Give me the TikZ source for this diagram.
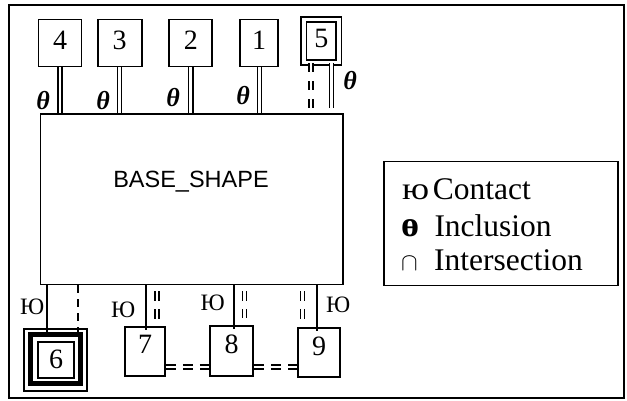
\documentclass[tikz,border=0pt]{standalone}
\usepackage{fontspec}
\setmainfont{Liberation Serif}
\newfontfamily\basesans{Liberation Sans}
\usetikzlibrary{calc}

\begin{document}
\begin{tikzpicture}[x=1pt,y=-1pt,
  box/.style={draw, line width=1.8pt, inner sep=0pt, fill=white,
    font=\fontsize{28}{28}\selectfont, text depth=5pt},
  lowbox/.style={box, text depth=14pt},
  incl/.style={double, line width=1.3pt, double distance=2.8pt},
  isect/.style={incl, dash pattern=on 9pt off 9pt},
  isectshort/.style={incl, dash pattern=on 10pt off 8pt},
  isecth/.style={incl, dash pattern=on 10pt off 7pt},
  contact/.style={line width=1.8pt},
  theta/.style={inner sep=0pt, font=\fontsize{26}{26}\selectfont\bfseries\itshape},
  ctlabel/.style={inner sep=0pt, font=\fontsize{23.5}{23.5}\selectfont},
  legtext/.style={anchor=base west, inner sep=0pt, font=\fontsize{31.5}{31.5}\selectfont},
]
\useasboundingbox (0,0) rectangle (627,400);

% outer frame
\draw[line width=2pt] (9,5) rectangle (624,398);

% base shape
\node[draw, line width=1.8pt, minimum width=302.5pt, minimum height=170.2pt,
  inner sep=0pt] (base) at (191.75,199.4) {};
\node[anchor=base, inner sep=0pt, font=\basesans\fontsize{23.5}{23.5}\selectfont]
  (basetxt) at (191,187) {BASE\_SHAPE};

% upper boxes
\node[box, minimum width=43pt, minimum height=47pt] (b4) at (60,43) {4};
\node[box, minimum width=44pt, minimum height=47pt] (b3) at (119.7,43) {3};
\node[box, minimum width=43pt, minimum height=47pt] (b2) at (190.8,43) {2};
\node[box, minimum width=38pt, minimum height=47pt] (b1) at (259.2,43) {1};
\node[box, double, line width=1.7pt, double distance=3.6pt,
  minimum width=35pt, minimum height=43pt] (b5) at (321.3,40.8) {5};

% inclusion links on top
\draw[incl] (b4.south) -- (b4.south |- base.north);
\draw[incl] (b3.south) -- (b3.south |- base.north);
\draw[incl] (b2.south) -- (b2.south |- base.north);
\draw[incl] (b1.south) -- (b1.south |- base.north);
\coordinate (k5d) at ([xshift=-10.3pt]b5.south);
\coordinate (k5s) at ([xshift=10.4pt]b5.south);
\draw[isect] (k5d) -- ([yshift=3pt]base.north -| k5d);
\draw[incl] (k5s) -- ([yshift=5pt]base.north -| k5s);

\node[theta] (th4) at (43,101) {θ};
\node[theta] (th3) at (103,101) {θ};
\node[theta] (th2) at (173,98) {θ};
\node[theta] (th1) at (243,96) {θ};
\node[theta] (th5) at (350,81) {θ};

% lower boxes
\node[draw, line width=1.6pt, minimum width=63pt, minimum height=62pt,
  inner sep=0pt] (b6out) at (55.7,360) {};
\node[draw, line width=5pt, minimum width=50pt, minimum height=48.5pt,
  inner sep=0pt] (b6mid) at (55.8,359.2) {};
\node[draw, line width=1.6pt, minimum width=36.4pt, minimum height=36pt,
  inner sep=0pt, font=\fontsize{28}{28}\selectfont, text depth=1pt] (b6) at (56,359.7) {6};
\node[lowbox, minimum width=40pt, minimum height=49pt] (b7) at (145,351.5) {7};
\node[lowbox, minimum width=43pt, minimum height=50pt] (b8) at (231.7,351) {8};
\node[lowbox, minimum width=41.7pt, minimum height=49pt] (b9) at (319.2,352.8) {9};

% contact and intersection links below
\coordinate (k6s) at ([xshift=-9pt]b6.north);
\coordinate (k6d) at ([xshift=22pt]b6.north);
\draw[contact] (base.south -| k6s) -- (b6mid.north -| k6s);
\draw[contact, dash pattern=on 8pt off 6pt] (base.south -| k6d) -- (b6mid.north -| k6d);

\coordinate (k7s) at ([xshift=0.7pt]b7.north);
\coordinate (k7d) at ([xshift=12pt]b7.north);
\draw[contact] (base.south -| k7s) -- ([yshift=-4pt]k7s);
\draw[isectshort] ([yshift=-6pt]base.south -| k7d) -- ([yshift=7pt]k7d);

\coordinate (k8s) at ([xshift=2.6pt]b8.north);
\coordinate (k8d) at ([xshift=12.6pt]b8.north);
\draw[contact] (base.south -| k8s) -- ([yshift=-4pt]k8s);
\draw[isectshort] ([yshift=-6pt]base.south -| k8d) -- ([yshift=7pt]k8d);

\coordinate (k9s) at ([xshift=-2pt]b9.north);
\coordinate (k9d) at ([xshift=-17pt]b9.north);
\draw[contact] (base.south -| k9s) -- ([yshift=-4pt]k9s);
\draw[isectshort] ([yshift=-6pt]base.south -| k9d) -- ([yshift=7pt]k9d);

\coordinate (c78) at ([yshift=10pt]b7.south east);
\draw[isecth] (c78) -- (c78 -| b8.west);
\coordinate (c89) at ([yshift=10pt]b8.south east);
\draw[isecth] (c89) -- (c89 -| b9.west);

\node[ctlabel] (ct6) at (32.3,306.7) {Ю};
\node[ctlabel] (ct7) at (123.3,310) {Ю};
\node[ctlabel] (ct8) at (212.7,303) {Ю};
\node[ctlabel] (ct9) at (338.3,305) {Ю};

% legend
\node[draw, line width=1.8pt, minimum width=233.7pt, minimum height=124pt,
  inner sep=0pt, anchor=north west] (legend) at (383.3,160.5) {};
\node[legtext] (lg1s) at (402,199) {\scalebox{1.15}[1]{ю}};
\node[legtext] (lg1) at (432.7,199) {Contact};
\node[legtext, font=\fontsize{36}{36}\selectfont\bfseries] (lg2s) at (401,236) {ө};
\node[legtext] (lg2) at (434.3,236) {Inclusion};
\node[legtext, font=\fontsize{26}{26}\selectfont] (lg3s) at (401,270) {$\cap$};
\node[legtext] (lg3) at (434,270) {Intersection};
\end{tikzpicture}
\end{document}
